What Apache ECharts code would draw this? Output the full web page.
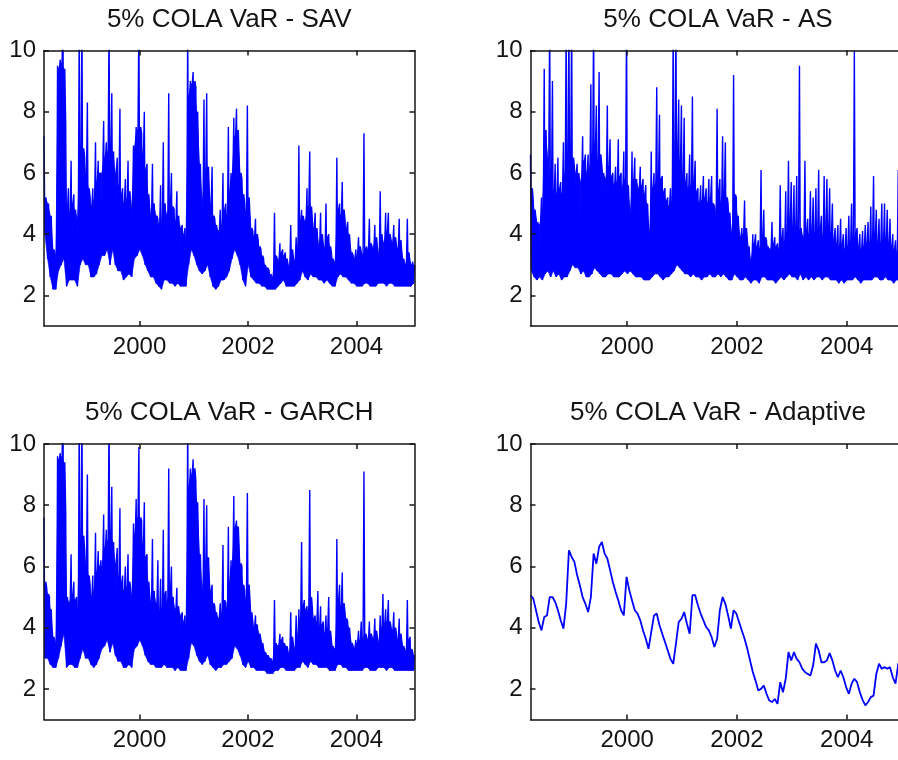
<!DOCTYPE html>
<html>
<head>
<meta charset="utf-8">
<title>5% COLA VaR</title>
<script src="https://cdn.jsdelivr.net/npm/echarts@6/dist/echarts.min.js"></script>
<style>
  html, body { margin: 0; padding: 0; background: #ffffff; }
  #chart { width: 898px; height: 760px; }
</style>
</head>
<body>
<div id="chart"></div>
<script>
// Sampling of the VaR series: one step every 0.05 year, starting in spring 1998.
const START_YEAR = 1998.238;
const STEP_YEARS = 0.05;
const X_MIN = 1998.238;
const X_MAX = 2005.07;
const Y_MIN = 1;
const Y_MAX = 10;

const yearTicks = [2000, 2002, 2004];
const valueTicks = [2, 4, 6, 8, 10];
const panelTitles = [
  '5% COLA VaR - SAV',
  '5% COLA VaR - AS',
  '5% COLA VaR - GARCH',
  '5% COLA VaR - Adaptive'
];

// Daily VaR per step: highest day (peak), upper edge of the dense band (core), lowest day (floor).
const savPeak = [7.2,5.0,5.0,3.6,3.4,9.5,9.7,11,7.6,5.5,
  6.4,5.3,4.8,11,11,6.5,8.3,5.2,5.5,7.0,
  6.4,6.0,7.7,7.0,11,8.6,6.7,6.5,8.1,5.5,
  5.8,6.4,5.0,6.9,7.5,11,7.3,8.0,6.3,4.8,
  6.3,5.0,4.5,5.6,7.0,5.0,8.6,6.0,4.8,5.4,
  4.6,4.3,4.2,11,9.0,9.3,8.8,6.5,5.0,8.4,
  8.6,5.2,6.2,4.5,4.3,4.8,6.0,5.0,7.5,6.0,
  7.8,8.1,6.3,5.8,5.0,8.2,4.5,4.1,4.5,3.8,
  3.5,3.2,3.0,2.8,2.6,4.7,3.2,3.7,3.5,3.4,
  3.0,4.3,3.2,3.9,6.9,4.8,4.6,5.5,6.7,4.4,
  4.7,3.7,4.7,3.6,5.0,4.0,3.4,3.2,6.5,5.0,
  5.7,4.5,4.4,3.5,3.3,3.5,3.9,3.4,7.3,3.6,
  4.5,3.6,4.3,3.5,5.4,4.0,4.7,4.7,3.8,4.3,
  3.6,4.5,3.3,3.0,4.5,3.0,3.1];
const savCore = [5.2,5.0,4.6,3.5,3.3,9.4,9.6,9.4,4.8,4.7,
  5.0,4.8,4.5,6.4,6.8,6.0,5.5,4.9,5.1,5.7,
  6.0,6.0,6.5,6.7,6.8,6.7,6.0,5.6,5.3,5.0,
  5.1,5.4,4.8,6.8,7.4,7.5,6.6,6.1,5.3,4.6,
  5.0,4.6,4.3,4.4,5.0,4.6,5.0,4.9,4.4,4.6,
  4.2,4.0,3.9,8.5,8.9,9.0,8.0,6.3,5.0,6.0,
  6.2,5.0,4.6,4.3,4.1,4.2,4.8,4.6,5.3,5.9,
  7.2,7.4,6.0,5.3,4.7,5.2,4.2,3.9,4.0,3.6,
  3.3,3.0,2.9,2.7,2.6,3.3,3.1,3.4,3.3,3.2,
  2.9,3.5,3.1,3.4,4.4,4.6,4.4,4.9,4.9,4.2,
  4.2,3.6,4.0,3.5,3.9,3.6,3.2,3.1,4.8,4.6,
  4.8,4.2,4.0,3.4,3.2,3.3,3.6,3.3,3.5,3.5,
  3.7,3.5,3.9,3.3,4.0,3.7,4.1,4.0,3.7,3.9,
  3.5,3.8,3.2,3.0,3.4,3.0,3.0];
const savFloor = [4.0,3.2,2.6,2.2,2.2,2.8,3.0,3.2,2.3,2.5,
  2.5,2.5,2.3,3.0,3.2,3.0,3.0,2.6,2.6,2.7,
  3.0,3.3,3.3,3.5,3.0,3.5,3.0,2.8,2.8,2.5,
  2.6,2.7,2.6,3.2,3.3,3.5,3.3,3.0,2.8,2.6,
  2.6,2.4,2.3,2.2,2.5,2.5,2.4,2.4,2.3,2.4,
  2.3,2.3,2.3,3.0,3.5,3.3,3.0,2.8,2.7,2.8,
  3.0,2.6,2.3,2.2,2.3,2.5,2.5,2.6,2.8,3.2,
  3.5,3.3,3.0,2.5,2.3,3.0,2.6,2.5,2.4,2.4,
  2.3,2.3,2.2,2.2,2.2,2.2,2.3,2.4,2.5,2.3,
  2.3,2.3,2.3,2.4,2.5,2.8,2.6,2.5,2.7,2.6,
  2.6,2.5,2.5,2.4,2.5,2.4,2.3,2.3,2.6,2.7,
  2.6,2.6,2.5,2.4,2.4,2.3,2.3,2.3,2.4,2.4,
  2.3,2.3,2.3,2.4,2.4,2.4,2.3,2.4,2.4,2.3,
  2.3,2.3,2.3,2.3,2.3,2.3,2.4];

const asPeak = [6.6,5.1,4.5,4.4,5.2,9.4,7.4,11,9.0,6.3,
  6.5,5.7,7.0,11,11,11,6.2,6.3,6.0,7.2,
  6.6,6.6,8.9,11,8.2,9.3,6.2,6.0,8.2,7.1,
  6.0,6.2,7.1,6.0,6.7,11,4.7,6.7,6.5,5.8,
  6.2,5.8,5.6,4.0,6.7,6.0,8.8,7.9,5.9,5.5,
  5.2,5.5,11,11,8.4,8.2,7.8,6.0,6.6,8.5,
  6.4,5.5,5.6,5.9,5.5,5.8,5.9,4.9,8.1,5.8,
  7.2,7.0,5.0,4.0,9.2,5.2,4.0,4.2,5.1,3.8,
  3.1,4.0,4.0,3.8,6.1,4.8,3.8,3.6,4.4,3.9,
  3.7,5.6,4.2,5.4,6.4,5.7,5.6,5.9,9.5,4.2,
  6.4,4.5,5.4,5.2,5.5,6.1,4.6,5.9,5.8,5.5,
  5.0,4.2,4.3,4.5,4.0,4.2,4.6,5.0,10.0,4.2,
  4.0,4.1,4.3,4.4,4.9,5.9,4.8,4.5,5.0,5.0,
  4.8,4.5,4.0,3.8,6.1,3.8,3.6];
const asCore = [5.5,4.8,4.4,4.3,4.8,7.4,6.5,5.7,5.3,5.3,
  5.5,5.3,5.9,6.4,6.6,6.5,6.0,6.0,5.7,6.4,
  6.0,6.1,6.6,6.8,6.4,6.6,6.0,5.8,6.2,5.9,
  5.6,5.7,5.9,5.5,5.8,5.6,4.7,5.8,5.8,5.5,
  5.6,5.3,5.0,4.0,5.5,5.6,5.9,5.8,5.4,5.1,
  4.9,5.0,6.4,6.7,6.4,5.9,5.7,5.5,5.6,5.7,
  5.4,5.0,5.1,5.2,5.0,5.2,5.0,4.7,5.4,5.0,
  5.4,5.2,4.7,4.0,5.3,4.6,3.9,4.0,4.2,3.6,
  3.1,3.7,3.6,3.5,3.8,3.9,3.6,3.5,3.7,3.6,
  3.5,3.8,3.7,4.0,4.4,4.2,4.2,4.0,4.2,3.9,
  4.1,4.0,4.1,4.0,4.1,4.2,3.9,4.2,4.2,4.0,
  3.8,3.7,3.6,3.7,3.5,3.6,3.7,3.7,4.0,3.6,
  3.5,3.6,3.7,3.7,3.8,3.9,3.7,3.7,3.8,3.8,
  3.7,3.6,3.5,3.4,3.7,3.5,3.4];
const asFloor = [2.8,2.6,2.5,2.6,2.5,2.7,2.8,2.6,2.8,2.6,
  2.7,2.5,2.6,2.6,2.8,3.0,2.9,2.9,2.7,2.8,
  2.6,2.6,2.7,2.9,2.8,2.7,2.6,2.6,2.7,2.7,
  2.6,2.6,2.6,2.7,2.8,2.7,2.8,2.7,2.6,2.6,
  2.6,2.5,2.5,2.5,2.6,2.7,2.7,2.6,2.5,2.6,
  2.6,2.7,2.8,3.0,2.9,2.8,2.7,2.7,2.6,2.7,
  2.6,2.6,2.5,2.6,2.6,2.7,2.6,2.6,2.7,2.6,
  2.7,2.6,2.5,2.5,2.7,2.6,2.5,2.5,2.6,2.5,
  2.4,2.5,2.5,2.4,2.6,2.6,2.5,2.5,2.5,2.4,
  2.5,2.6,2.5,2.6,2.7,2.6,2.6,2.5,2.7,2.5,
  2.6,2.5,2.6,2.5,2.6,2.6,2.5,2.6,2.6,2.5,
  2.5,2.5,2.4,2.5,2.4,2.5,2.5,2.5,2.6,2.5,
  2.4,2.5,2.5,2.5,2.5,2.6,2.6,2.5,2.5,2.6,
  2.5,2.5,2.4,2.5,2.5,2.5,2.5];

const garchPeak = [7.6,5.3,5.0,3.8,3.6,9.6,9.7,11,7.8,5.0,
  6.4,5.5,5.0,11,11,6.5,9.0,5.4,5.7,7.1,
  6.5,6.2,7.7,7.2,11,8.6,6.8,6.6,7.9,5.7,
  6.0,6.4,5.2,7.4,8.2,9.9,7.5,8.1,6.4,5.0,
  6.9,5.2,6.2,5.6,7.2,5.2,9.2,6.0,5.0,5.3,
  4.7,4.5,4.4,11,9.2,9.5,8.8,6.7,5.2,8.2,
  8.0,5.4,5.4,4.7,4.5,4.8,6.7,4.8,7.3,6.2,
  8.3,7.5,6.5,6.0,5.2,8.4,4.8,4.2,4.4,4.1,
  3.6,3.3,3.1,3.0,2.9,4.9,3.5,3.8,3.7,3.5,
  3.2,4.5,3.4,4.4,4.6,6.8,4.9,4.7,8.5,4.6,
  4.4,5.2,4.7,4.2,4.4,5.0,3.6,3.4,6.9,5.4,
  5.8,4.5,4.2,3.6,3.4,3.6,3.9,4.2,9.1,3.7,
  4.2,3.7,4.3,3.6,4.4,5.1,4.6,4.9,4.0,4.5,
  3.8,4.3,3.5,3.3,4.9,3.7,3.2];
const garchCore = [5.5,5.1,4.6,3.7,3.5,9.5,9.6,9.4,5.0,4.8,
  5.1,4.9,4.6,6.6,7.0,6.1,5.7,5.0,5.2,5.8,
  6.0,6.0,6.6,6.8,7.0,6.8,6.1,5.7,5.5,5.2,
  5.3,5.5,5.0,7.0,7.6,7.6,6.7,6.3,5.5,4.8,
  5.2,4.8,4.5,4.6,5.1,4.8,5.2,5.0,4.6,4.7,
  4.4,4.2,4.1,8.6,9.0,9.2,8.1,6.4,5.2,6.1,
  6.3,5.2,4.8,4.5,4.3,4.4,4.9,4.6,5.4,6.0,
  7.3,7.3,6.1,5.4,4.9,5.4,4.5,4.0,4.1,3.8,
  3.5,3.2,3.1,3.0,2.9,3.5,3.4,3.6,3.5,3.4,
  3.1,3.7,3.3,3.6,4.3,4.7,4.6,4.5,5.0,4.3,
  4.2,4.0,4.1,3.8,4.0,3.9,3.4,3.3,4.9,4.7,
  4.8,4.3,4.0,3.5,3.3,3.5,3.6,3.6,3.8,3.6,
  3.8,3.6,3.9,3.5,4.0,4.1,4.2,4.2,3.9,4.0,
  3.6,3.8,3.4,3.2,3.6,3.3,3.1];
const garchFloor = [3.0,3.0,2.8,2.7,2.7,3.0,3.4,3.8,2.7,2.8,
  2.8,2.7,2.7,3.0,3.3,3.0,3.0,2.8,2.7,2.8,
  3.0,3.3,3.4,3.6,3.2,3.5,3.1,2.9,2.9,2.7,
  2.7,2.8,2.7,3.3,3.4,3.6,3.4,3.1,2.9,2.8,
  2.8,2.7,2.7,2.7,2.8,2.7,2.7,2.7,2.6,2.7,
  2.6,2.6,2.6,3.0,3.5,3.4,3.1,2.9,2.8,2.9,
  3.1,2.8,2.7,2.6,2.7,2.7,2.8,2.8,2.9,3.0,
  3.4,3.3,3.1,2.8,2.7,2.9,2.7,2.7,2.6,2.6,
  2.6,2.6,2.5,2.5,2.5,2.6,2.6,2.7,2.7,2.6,
  2.6,2.6,2.6,2.7,2.7,2.9,2.8,2.7,2.9,2.8,
  2.8,2.7,2.7,2.7,2.7,2.6,2.6,2.6,2.8,2.8,
  2.7,2.7,2.6,2.6,2.6,2.6,2.6,2.6,2.7,2.7,
  2.6,2.6,2.6,2.7,2.7,2.7,2.6,2.7,2.7,2.6,
  2.6,2.6,2.6,2.6,2.6,2.6,2.6];

// Adaptive VaR: one value per step.
const adaptiveVaR = [5.06,4.95,4.57,4.18,3.91,4.35,4.40,5.00,5.00,4.84,
  4.57,4.24,3.97,4.78,6.53,6.31,6.15,5.71,5.38,5.00,
  4.78,4.51,5.00,6.42,6.09,6.64,6.80,6.42,6.26,5.88,
  5.49,5.17,4.89,4.57,4.40,5.66,5.22,4.89,4.57,4.46,
  4.24,3.91,3.64,3.31,3.86,4.40,4.46,4.08,3.80,3.53,
  3.26,2.98,2.82,3.48,4.18,4.29,4.51,4.13,3.80,5.06,
  5.06,4.73,4.46,4.24,4.02,3.91,3.69,3.37,3.64,4.57,
  5.00,4.78,4.40,3.97,4.57,4.46,4.18,3.91,3.64,3.31,
  2.93,2.55,2.27,1.95,2.00,2.11,1.84,1.62,1.57,1.67,
  1.51,2.22,1.89,2.33,3.20,2.93,3.20,2.98,2.87,2.66,
  2.55,2.49,2.44,2.77,3.48,3.26,2.87,2.87,2.93,3.17,
  2.93,2.60,2.38,2.60,2.38,2.06,1.84,2.17,2.33,2.22,
  1.89,1.64,1.46,1.57,1.73,1.78,2.49,2.82,2.66,2.71,
  2.66,2.71,2.38,2.17,2.82,2.90,2.80];

// ---- build the points ----
function stepTime(i) { return START_YEAR + i * STEP_YEARS; }

// zig-zag through each step's peak, floor and core
function dailyPath(peak, core, floor) {
  const pts = [];
  for (let i = 0; i < peak.length; i++) {
    const t = stepTime(i);
    pts.push([t, peak[i]]);
    pts.push([t + STEP_YEARS / 3, floor[i]]);
    pts.push([t + 2 * STEP_YEARS / 3, core[i]]);
  }
  return pts;
}
// one quad per pair of steps, filled between floor and core
function bandQuads(core, floor) {
  const rows = [];
  for (let i = 0; i + 1 < core.length; i++) {
    const t0 = stepTime(i) + STEP_YEARS / 3;
    const t1 = stepTime(i + 1) + STEP_YEARS / 3;
    rows.push([t0, floor[i], core[i], t1, floor[i + 1], core[i + 1]]);
  }
  return rows;
}
function stepPath(values) {
  return values.map((v, i) => [stepTime(i), v]);
}

const noisyPanels = [
  { peak: savPeak, core: savCore, floor: savFloor },
  { peak: asPeak, core: asCore, floor: asFloor },
  { peak: garchPeak, core: garchCore, floor: garchFloor },
  null
];

// ---- layout ----
const FONT = '"Liberation Sans", Arial, Helvetica, sans-serif';
const INK = '#141414';
const BLUE = '#0000ff';
const PANEL_H = 275.5;
const panels = [
  { left: 44, top: 50.5, width: 370.5 },
  { left: 530.5, top: 50.5, width: 375 },
  { left: 44, top: 444, width: 370.5 },
  { left: 530.5, top: 444, width: 375 }
];

const boxLine = { show: true, onZero: false, lineStyle: { color: INK, width: 1.5 } };
const tickStyle = { color: INK, width: 1.5 };

function renderBand(params, api) {
  const a0 = api.coord([api.value(0), api.value(1)]);
  const a1 = api.coord([api.value(0), api.value(2)]);
  const b1 = api.coord([api.value(3), api.value(5)]);
  const b0 = api.coord([api.value(3), api.value(4)]);
  return {
    type: 'polygon',
    shape: { points: [a0, a1, b1, b0] },
    style: { fill: BLUE, stroke: BLUE, lineWidth: 0.6 },
    silent: true
  };
}

const grid = [], xAxis = [], yAxis = [], series = [], graphic = [];

panels.forEach((p, k) => {
  grid.push({
    left: p.left, top: p.top, width: p.width, height: PANEL_H,
    containLabel: false, outerBoundsMode: 'none', show: false
  });
  // bottom x axis with year labels, top x axis mirrors the ticks
  xAxis.push({
    gridIndex: k, type: 'value', position: 'bottom', min: X_MIN, max: X_MAX, z: 5,
    axisLine: boxLine,
    axisTick: { show: true, inside: true, length: 5, customValues: yearTicks, lineStyle: tickStyle },
    axisLabel: { show: true, customValues: yearTicks, margin: 9, fontFamily: FONT, fontSize: 24, color: INK,
                 formatter: v => String(Math.round(v)) },
    splitLine: { show: false }
  });
  xAxis.push({
    gridIndex: k, type: 'value', position: 'top', min: X_MIN, max: X_MAX, z: 5,
    axisLine: boxLine,
    axisTick: { show: true, inside: true, length: 5, customValues: yearTicks, lineStyle: tickStyle },
    axisLabel: { show: false },
    splitLine: { show: false }
  });
  yAxis.push({
    gridIndex: k, type: 'value', position: 'left', min: Y_MIN, max: Y_MAX, z: 5,
    axisLine: boxLine,
    axisTick: { show: true, inside: true, length: 5, customValues: valueTicks, lineStyle: tickStyle },
    axisLabel: { show: true, customValues: valueTicks, margin: 8, fontFamily: FONT, fontSize: 24, color: INK,
                 formatter: v => String(Math.round(v)) },
    splitLine: { show: false }
  });
  yAxis.push({
    gridIndex: k, type: 'value', position: 'right', min: Y_MIN, max: Y_MAX, z: 5,
    axisLine: boxLine,
    axisTick: { show: true, inside: true, length: 5, customValues: valueTicks, lineStyle: tickStyle },
    axisLabel: { show: false },
    splitLine: { show: false }
  });

  const np = noisyPanels[k];
  if (np) {
    series.push({
      type: 'custom', coordinateSystem: 'cartesian2d',
      xAxisIndex: 2 * k, yAxisIndex: 2 * k,
      data: bandQuads(np.core, np.floor),
      encode: { x: [0, 3], y: [1, 2, 4, 5] },
      renderItem: renderBand,
      clip: true, silent: true, z: 1
    });
    series.push({
      type: 'line', xAxisIndex: 2 * k, yAxisIndex: 2 * k,
      data: dailyPath(np.peak, np.core, np.floor),
      symbol: 'none', showSymbol: false, clip: true, silent: true,
      lineStyle: { color: BLUE, width: 1.4 }, z: 2
    });
  } else {
    series.push({
      type: 'line', xAxisIndex: 2 * k, yAxisIndex: 2 * k,
      data: stepPath(adaptiveVaR),
      symbol: 'none', showSymbol: false, clip: true, silent: true,
      lineStyle: { color: BLUE, width: 1.8 }, z: 2
    });
  }

  graphic.push({
    type: 'text',
    x: p.left + p.width / 2,
    y: p.top - 31,
    style: {
      text: panelTitles[k],
      font: '26px ' + FONT,
      fill: INK,
      align: 'center', verticalAlign: 'middle',
      textAlign: 'center', textVerticalAlign: 'middle'
    }
  });
});

const chart = echarts.init(document.getElementById('chart'), null, { renderer: 'canvas' });
chart.setOption({
  backgroundColor: '#ffffff',
  animation: false,
  textStyle: { fontFamily: FONT },
  grid, xAxis, yAxis, series, graphic
});
</script>
</body>
</html>
